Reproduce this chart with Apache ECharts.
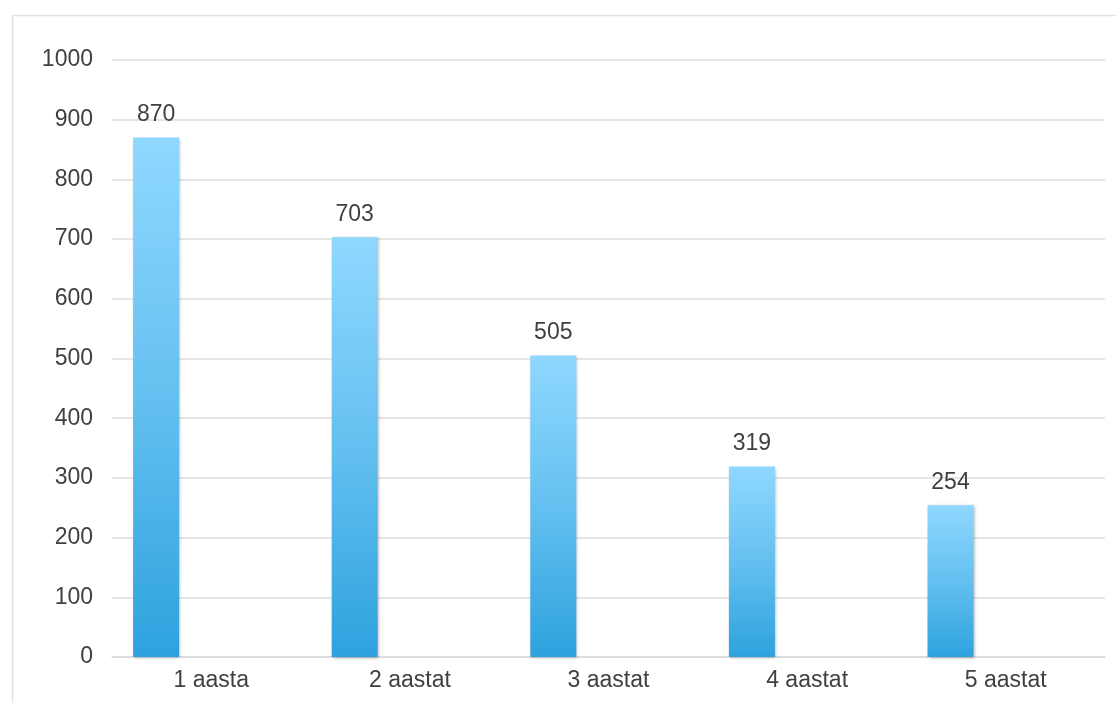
<!DOCTYPE html>
<html>
<head>
<meta charset="utf-8">
<script src="https://cdn.jsdelivr.net/npm/echarts@6/dist/echarts.min.js"></script>
<style>html,body{margin:0;padding:0;background:#fff;}#c{width:1116px;height:703px;}</style>
</head>
<body>
<div id="c"></div>
<script>
const categories = ['1 aasta', '2 aastat', '3 aastat', '4 aastat', '5 aastat'];
const values = [870, 703, 505, 319, 254];
const emptySeries = [null, null, null, null, null];
const yTicks = { min: 0, max: 1000, interval: 100 };

const chart = echarts.init(document.getElementById('c'), null, { renderer: 'canvas' });
const font = '"Liberation Sans", Arial, Helvetica, sans-serif';
chart.setOption({
  animation: false,
  backgroundColor: '#fff',
  graphic: [{
    type: 'rect', left: 10, top: 13, shape: { width: 1300, height: 900 },
    style: { fill: 'none', stroke: '#e2e2e2', lineWidth: 1.5 }, silent: true
  }],
  grid: { left: 112, right: 11, top: 60, bottom: 46, containLabel: false },
  xAxis: {
    type: 'category', data: categories,
    axisLine: { lineStyle: { color: '#d9d9d9', width: 1.5 } },
    axisTick: { show: false },
    axisLabel: { color: '#404040', fontSize: 23, fontFamily: font, margin: 12 }
  },
  yAxis: {
    type: 'value', min: yTicks.min, max: yTicks.max, interval: yTicks.interval,
    axisLine: { show: false }, axisTick: { show: false },
    splitLine: { lineStyle: { color: '#dedede', width: 1.5 } },
    axisLabel: { color: '#404040', fontSize: 23, fontFamily: font, margin: 19, formatter: v => String(v) }
  },
  series: [{
    type: 'bar', data: values, barWidth: 46, barGap: '140%',
    itemStyle: {
      color: new echarts.graphic.LinearGradient(0, 0, 0, 1, [
        { offset: 0, color: '#8fd8ff' },
        { offset: 0.5, color: '#64c0f0' },
        { offset: 1, color: '#2ea2de' }
      ]),
      shadowBlur: 3, shadowColor: 'rgba(0,0,0,0.3)', shadowOffsetX: 1, shadowOffsetY: 1
    },
    label: { show: true, position: 'top', distance: 11, color: '#404040', fontSize: 23, fontFamily: font }
  }, {
    type: 'bar', data: emptySeries, barWidth: 46
  }]
});
</script>
</body>
</html>
